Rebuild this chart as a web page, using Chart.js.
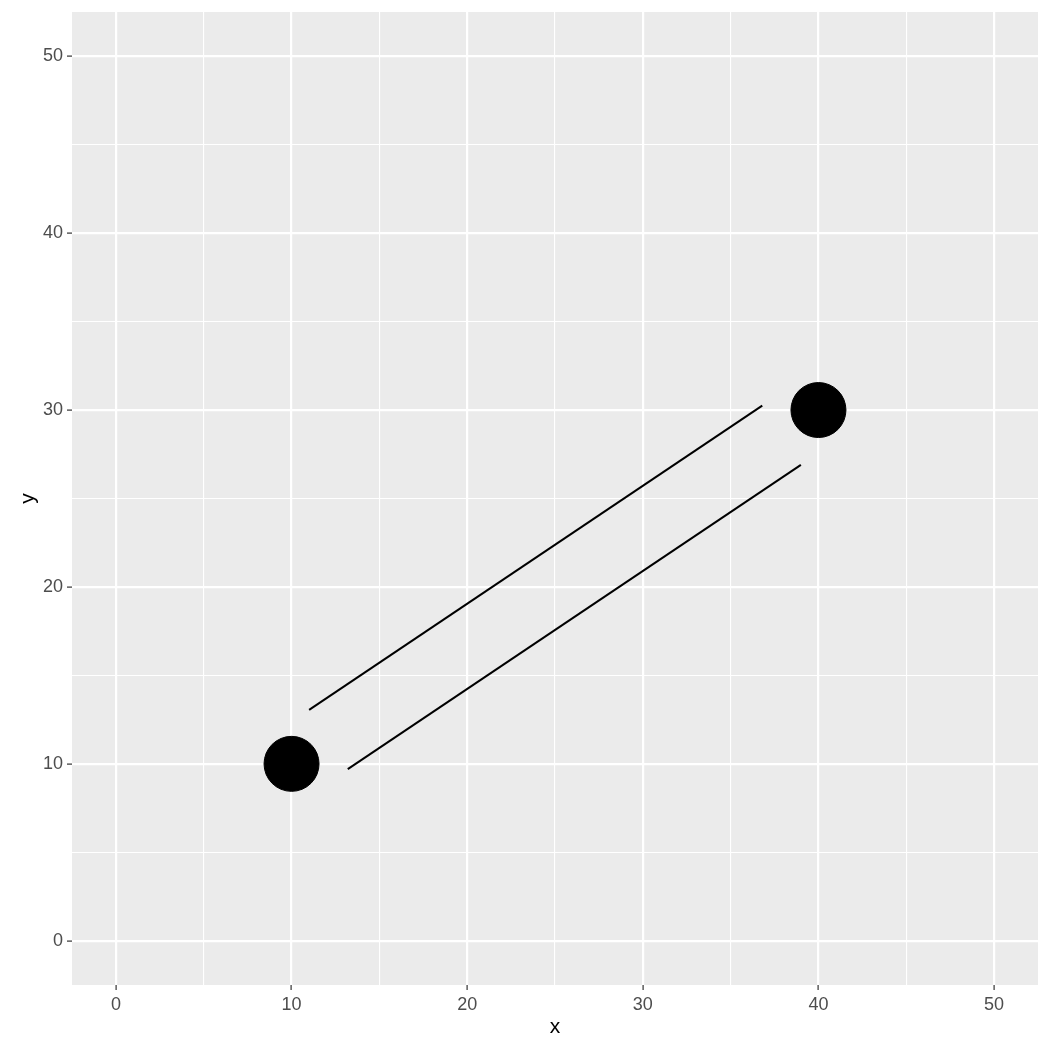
<!DOCTYPE html>
<html>
<head>
<meta charset="utf-8">
<script src="https://cdn.jsdelivr.net/npm/chart.js@4.4.1/dist/chart.umd.min.js"></script>
<style>
  html, body { margin: 0; padding: 0; background: #fff; }
  #chart { display: block; }
</style>
</head>
<body>
<canvas id="chart" width="1050" height="1050"></canvas>
<script>
// Dados
const pontosX = [10, 40];
const pontosY = [10, 30];

// segmentos paralelos (inicio -> fim)
const seg1X = [11.0, 36.8];
const seg1Y = [13.05, 30.25];
const seg2X = [13.2, 39.0];
const seg2Y = [9.7, 26.9];

const tickVals = [0, 5, 10, 15, 20, 25, 30, 35, 40, 45, 50];
const tickLabels = ["0", "", "10", "", "20", "", "30", "", "40", "", "50"];

const ctx = document.getElementById("chart");

const isMajor = (v) => v % 10 === 0;

// fundo cinza do painel
const painel = {
  id: "painel",
  beforeDraw: (chart) => {
    const { ctx, chartArea } = chart;
    ctx.save();
    ctx.fillStyle = "#EBEBEB";
    ctx.fillRect(chartArea.left, chartArea.top, chartArea.right - chartArea.left, chartArea.bottom - chartArea.top);
    ctx.restore();
  }
};

const eixo = (titulo, titlePad) => ({
  type: "linear",
  min: -2.5,
  max: 52.5,
  afterBuildTicks: (scale) => {
    scale.ticks = tickVals.map(v => ({ value: v }));
  },
  ticks: {
    autoSkip: false,
    maxRotation: 0,
    padding: 4,
    color: "#4D4D4D",
    font: { family: "'Liberation Sans', Arial, sans-serif", size: 18 },
    callback: (v) => tickLabels[tickVals.indexOf(v)] ?? ""
  },
  grid: {
    color: "#FFFFFF",
    lineWidth: (c) => isMajor(c.tick.value) ? 2.2 : 1.1,
    tickColor: (c) => isMajor(c.tick.value) ? "#333333" : "rgba(0,0,0,0)",
    tickLength: 5,
    tickWidth: 1.2
  },
  border: { display: false },
  title: {
    display: true,
    text: titulo,
    color: "#000000",
    font: { family: "'Liberation Sans', Arial, sans-serif", size: 21 },
    padding: titlePad
  }
});

const escalaX = eixo("x", { top: 0, bottom: 10 });
escalaX.afterFit = (scale) => {
  scale.height = 65;
  scale.paddingLeft = 0;
  scale.paddingRight = 0;
};
const escalaY = eixo("y", { top: 16, bottom: 0 });
escalaY.afterFit = (scale) => {
  scale.width = 72;
  scale.paddingTop = 0;
  scale.paddingBottom = 0;
};

new Chart(ctx, {
  type: "scatter",
  data: {
    datasets: [
      {
        data: pontosX.map((x, i) => ({ x, y: pontosY[i] })),
        backgroundColor: "#000000",
        borderColor: "#000000",
        pointRadius: 27.5,
        pointHoverRadius: 27.5
      },
      {
        data: seg1X.map((x, i) => ({ x, y: seg1Y[i] })),
        showLine: true,
        borderColor: "#000000",
        borderWidth: 2,
        pointRadius: 0
      },
      {
        data: seg2X.map((x, i) => ({ x, y: seg2Y[i] })),
        showLine: true,
        borderColor: "#000000",
        borderWidth: 2,
        pointRadius: 0
      }
    ]
  },
  options: {
    responsive: false,
    animation: false,
    layout: { autoPadding: false, padding: { top: 12, right: 12, left: 0, bottom: 0 } },
    scales: { x: escalaX, y: escalaY },
    plugins: {
      legend: { display: false },
      tooltip: { enabled: false }
    }
  },
  plugins: [painel]
});
</script>
</body>
</html>
